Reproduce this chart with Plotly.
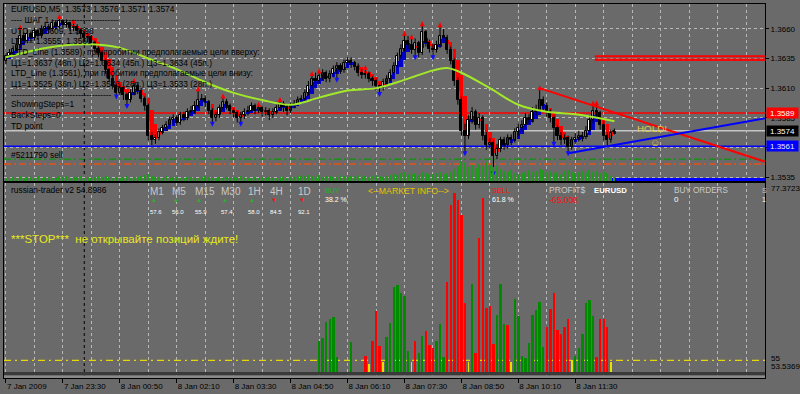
import plotly.graph_objects as go
from plotly.subplots import make_subplots

# ---------------- data ----------------
symbol = "EURUSD,M5"
time_labels = ["7 Jan 2009", "7 Jan 23:30", "8 Jan 00:50", "8 Jan 02:10", "8 Jan 03:30",
               "8 Jan 04:50", "8 Jan 06:10", "8 Jan 07:30", "8 Jan 08:50", "8 Jan 10:10", "8 Jan 11:30"]
label_bars = [0, 16, 32, 48, 64, 80, 96, 112, 128, 144, 160]
day_break_bar = 22

closes = [
    1.3637, 1.3640, 1.3643, 1.3646, 1.3654, 1.3650, 1.3656, 1.3652, 1.3658, 1.3654,
    1.3660, 1.3662, 1.3660, 1.3665, 1.3662, 1.3667, 1.3663, 1.3665, 1.3661, 1.3662,
    1.3658, 1.3656, 1.3652, 1.3653, 1.3648, 1.3643, 1.3640, 1.3633, 1.3625, 1.3618,
    1.3612, 1.3606, 1.3610, 1.3604, 1.3600, 1.3606, 1.3612, 1.3608, 1.3601, 1.3595,
    1.3570, 1.3566, 1.3568, 1.3573, 1.3576, 1.3579, 1.3583, 1.3585, 1.3581, 1.3587,
    1.3585, 1.3590, 1.3591, 1.3595, 1.3600, 1.3601, 1.3598, 1.3591, 1.3585, 1.3587,
    1.3593, 1.3598, 1.3595, 1.3591, 1.3589, 1.3585, 1.3587, 1.3590, 1.3591, 1.3595,
    1.3591, 1.3593, 1.3590, 1.3591, 1.3587, 1.3590, 1.3593, 1.3597, 1.3594, 1.3591,
    1.3596, 1.3597, 1.3600, 1.3601, 1.3606, 1.3612, 1.3618, 1.3616, 1.3620, 1.3623,
    1.3618, 1.3622, 1.3626, 1.3629, 1.3625, 1.3631, 1.3633, 1.3631, 1.3628, 1.3623,
    1.3621, 1.3622, 1.3618, 1.3616, 1.3612, 1.3610, 1.3615, 1.3618, 1.3623, 1.3629,
    1.3637, 1.3643, 1.3650, 1.3646, 1.3642, 1.3648, 1.3640, 1.3657, 1.3648, 1.3643,
    1.3642, 1.3646, 1.3654, 1.3652, 1.3642, 1.3633, 1.3616, 1.3600, 1.3574, 1.3570,
    1.3583, 1.3590, 1.3579, 1.3585, 1.3570, 1.3562, 1.3564, 1.3553, 1.3559, 1.3566,
    1.3562, 1.3568, 1.3566, 1.3573, 1.3576, 1.3579, 1.3585, 1.3583, 1.3590, 1.3591,
    1.3600, 1.3595, 1.3590, 1.3585, 1.3576, 1.3570, 1.3566, 1.3568, 1.3560, 1.3566,
    1.3568, 1.3570, 1.3569, 1.3574, 1.3583, 1.3591, 1.3589, 1.3579, 1.3570, 1.3566,
    1.3572, 1.3574]
highs = [
    1.3640, 1.3643, 1.3646, 1.3652, 1.3661, 1.3657, 1.3659, 1.3658, 1.3661, 1.3660,
    1.3663, 1.3666, 1.3664, 1.3668, 1.3667, 1.3670, 1.3668, 1.3668, 1.3666, 1.3666,
    1.3664, 1.3660, 1.3658, 1.3656, 1.3655, 1.3650, 1.3645, 1.3642, 1.3635, 1.3627,
    1.3621, 1.3614, 1.3613, 1.3612, 1.3606, 1.3609, 1.3616, 1.3614, 1.3610, 1.3603,
    1.3597, 1.3573, 1.3571, 1.3576, 1.3579, 1.3582, 1.3586, 1.3588, 1.3587, 1.3590,
    1.3590, 1.3593, 1.3595, 1.3599, 1.3609, 1.3605, 1.3604, 1.3600, 1.3593, 1.3590,
    1.3596, 1.3603, 1.3601, 1.3597, 1.3593, 1.3591, 1.3590, 1.3593, 1.3595, 1.3598,
    1.3597, 1.3596, 1.3595, 1.3594, 1.3593, 1.3593, 1.3596, 1.3600, 1.3599, 1.3596,
    1.3598, 1.3600, 1.3603, 1.3604, 1.3609, 1.3616, 1.3622, 1.3623, 1.3624, 1.3626,
    1.3625, 1.3625, 1.3629, 1.3632, 1.3631, 1.3634, 1.3636, 1.3636, 1.3633, 1.3631,
    1.3626, 1.3627, 1.3624, 1.3620, 1.3618, 1.3614, 1.3618, 1.3621, 1.3626, 1.3632,
    1.3640, 1.3647, 1.3656, 1.3654, 1.3653, 1.3652, 1.3650, 1.3664, 1.3659, 1.3651,
    1.3647, 1.3650, 1.3663, 1.3660, 1.3655, 1.3645, 1.3635, 1.3619, 1.3603, 1.3580,
    1.3587, 1.3594, 1.3592, 1.3589, 1.3587, 1.3573, 1.3568, 1.3566, 1.3563, 1.3569,
    1.3569, 1.3571, 1.3571, 1.3576, 1.3580, 1.3583, 1.3589, 1.3588, 1.3594, 1.3596,
    1.3610, 1.3603, 1.3598, 1.3592, 1.3587, 1.3579, 1.3573, 1.3571, 1.3570, 1.3569,
    1.3572, 1.3574, 1.3573, 1.3578, 1.3587, 1.3597, 1.3597, 1.3591, 1.3582, 1.3573,
    1.3575, 1.3576]
lows = [
    1.3630, 1.3635, 1.3638, 1.3641, 1.3644, 1.3647, 1.3648, 1.3649, 1.3650, 1.3651,
    1.3652, 1.3657, 1.3656, 1.3658, 1.3659, 1.3660, 1.3660, 1.3661, 1.3658, 1.3658,
    1.3655, 1.3652, 1.3649, 1.3649, 1.3645, 1.3640, 1.3636, 1.3630, 1.3622, 1.3615,
    1.3609, 1.3603, 1.3604, 1.3600, 1.3595, 1.3598, 1.3604, 1.3605, 1.3598, 1.3591,
    1.3566, 1.3562, 1.3563, 1.3566, 1.3571, 1.3574, 1.3577, 1.3580, 1.3578, 1.3579,
    1.3582, 1.3583, 1.3588, 1.3589, 1.3593, 1.3597, 1.3594, 1.3588, 1.3580, 1.3582,
    1.3585, 1.3591, 1.3592, 1.3588, 1.3585, 1.3581, 1.3580, 1.3584, 1.3587, 1.3589,
    1.3588, 1.3589, 1.3586, 1.3587, 1.3583, 1.3585, 1.3588, 1.3591, 1.3590, 1.3587,
    1.3589, 1.3593, 1.3595, 1.3597, 1.3599, 1.3604, 1.3610, 1.3612, 1.3614, 1.3617,
    1.3615, 1.3615, 1.3619, 1.3617, 1.3622, 1.3623, 1.3628, 1.3627, 1.3625, 1.3620,
    1.3618, 1.3618, 1.3615, 1.3612, 1.3608, 1.3605, 1.3608, 1.3612, 1.3616, 1.3621,
    1.3627, 1.3635, 1.3641, 1.3643, 1.3639, 1.3636, 1.3636, 1.3638, 1.3645, 1.3640,
    1.3636, 1.3640, 1.3644, 1.3648, 1.3639, 1.3630, 1.3612, 1.3596, 1.3570, 1.3555,
    1.3567, 1.3580, 1.3575, 1.3576, 1.3566, 1.3558, 1.3559, 1.3538, 1.3550, 1.3556,
    1.3558, 1.3559, 1.3562, 1.3564, 1.3570, 1.3574, 1.3577, 1.3580, 1.3581, 1.3587,
    1.3589, 1.3590, 1.3586, 1.3581, 1.3563, 1.3566, 1.3562, 1.3563, 1.3555, 1.3558,
    1.3563, 1.3565, 1.3565, 1.3567, 1.3572, 1.3580, 1.3585, 1.3575, 1.3566, 1.3562,
    1.3564, 1.3571]
first_open = 1.3633
last_open = 1.3573
opens = [first_open] + closes[:-1]
opens[-1] = last_open

volumes = [
    30, 25, 40, 35, 50, 30, 45, 40, 35, 50, 30, 40, 45, 35, 30, 50, 40, 55, 35, 45,
    40, 50, 35, 45, 30, 40, 55, 45, 50, 40, 35, 45, 30, 40, 50, 35, 45, 40, 55, 60,
    70, 50, 45, 40, 35, 50, 30, 45, 40, 35, 30, 40, 45, 35, 30, 40, 50, 45, 35, 30,
    40, 35, 45, 30, 40, 35, 50, 45, 30, 35, 40, 30, 45, 35, 40, 30, 35, 45, 40, 35,
    45, 40, 50, 60, 55, 65, 50, 45, 60, 40, 55, 50, 45, 40, 60, 50, 45, 55, 50, 60,
    45, 50, 40, 55, 60, 50, 45, 55, 60, 70, 65, 80, 90, 75, 70, 85, 60, 90, 80, 70,
    75, 85, 90, 70, 80, 95, 120, 150, 200, 180, 140, 160, 130, 170, 150, 190, 160, 140, 150, 120,
    100, 90, 110, 80, 70, 85, 95, 110, 90, 100, 120, 110, 90, 100, 80, 90, 70, 100, 110, 90,
    85, 95, 100, 80, 110, 90, 100, 85, 95, 80, 60, 30]

up_fractals = [4, 15, 19, 36, 54, 61, 71, 77, 86, 88, 101, 112, 114, 117, 122, 150, 165, 166]
down_fractals = [31, 34, 58, 66, 93, 105, 115, 120, 129, 137, 154, 158]

ma_bars = [0, 8, 16, 24, 32, 40, 48, 56, 64, 72, 80, 88, 96, 104, 112, 120, 124, 128,
           136, 144, 152, 160, 168, 171]
ma_values = [1.3636, 1.3642, 1.3646, 1.3647, 1.3644, 1.3635, 1.3626, 1.3615, 1.3606, 1.3600,
             1.3596, 1.3602, 1.3608, 1.3610, 1.3617, 1.3625, 1.3627, 1.3623, 1.3610, 1.3596,
             1.3590, 1.3588, 1.3584, 1.3582]

utd_point = 1.3609
utd_point2 = 1.3598
ltd_point = 1.3555
ltd_point2 = 1.3560
utd_line = 1.3589
ltd_line = 1.3561
bid = 1.3574
up_targets = [1.3637, 1.3634, 1.3634]
down_targets = [1.3525, 1.3533, 1.3533]
target_up_start = 165.5
target_dn_start = 170.0
order_open = 1.3550
order_stop = 1.3546
order_label = "#5211790 sell"
red_trend_x = [150, 213.3]
red_trend_y = [1.3610, 1.3548]
blue_trend_x = [158, 213.3]
blue_trend_y = [1.3555, 1.35845]
price_ticks = [1.3660, 1.3635, 1.3610, 1.3585, 1.3560, 1.3535]
hidden_price_ticks = [1.3560]   # covered by the LTD price box in the reference

# lower indicator window
ind_name = "russian-trader v2"
ind_value = 54.8986
ind_max = 77.3723
ind_min = 53.5369
ind_level = 55
green_x = [88, 89, 90, 91, 92, 93, 97, 107, 108, 109, 110, 111, 112, 113, 116, 117, 121, 122, 123,
           131, 138, 139, 140, 143, 144, 145, 146, 147, 148, 149, 150, 151, 160, 161, 162, 163, 164, 165]
green_v = [57.47, 57.80, 59.85, 60.19, 60.53, 55.38, 57.26, 57.93, 59.77, 64.20, 64.45, 63.45, 63.11,
           56.17, 55.92, 58.09, 57.43, 59.65, 55.42, 64.61, 60.69, 64.61, 59.65, 62.69, 60.60, 55.51,
           55.29, 57.17, 60.69, 61.31, 62.36, 56.64, 55.51, 56.51, 58.30, 62.28, 62.61, 60.60]
red_x = [101, 103, 104, 105, 115, 118, 119, 120, 124, 125, 126, 127, 128, 129, 132, 133, 134, 135,
         136, 137, 141, 152, 153, 154, 155, 156, 157, 158, 166, 167, 168, 169]
red_v = [55.58, 57.43, 61.19, 56.80, 57.43, 58.72, 56.92, 56.55, 64.86, 74.61, 76.12, 75.24, 73.36,
         62.19, 55.92, 70.47, 75.49, 61.60, 61.85, 57.05, 59.52, 59.27, 61.53, 63.54, 58.81, 58.39,
         59.15, 60.19, 55.46, 60.19, 60.27, 59.15]
yellow_x = [102, 106, 114, 130, 142, 159, 170]
yellow_v = [54.50, 54.75, 54.75, 54.75, 54.75, 55.00, 54.75]

tf_names = ["M1", "M5", "M15", "M30", "1H", "4H", "1D"]
tf_values = [57.6, 56.0, 55.9, 57.4, 58.0, 84.5, 92.1]
tf_up = [True, True, True, True, True, False, False]
buy_pct = 38.2
sell_pct = 61.8
profit = -65.0
buy_orders = 0
sell_orders = 1

# ---------------- style / layout constants ----------------
W, H = 800, 394
L, R, T, B = 3, 765, 3, 379
BG = "#6a6a6a"
GRID = "#b9b9b9"
FONT = "Liberation Sans, Arial, sans-serif"
x_range = [-0.56, 213.33]
y_range = [1.35316, 1.36810]
ind_range = [52.784, ind_max]
tf_px = [147, 169, 192, 218, 245, 267, 295]


def px(x):
    return (x - L) / (R - L)


def py(y):
    return (B - y) / (B - T)


fig = make_subplots(rows=2, cols=1, shared_xaxes=True, vertical_spacing=0.005)

n = len(closes)
bars = list(range(n))

# volumes (hidden overlay axis in main window)
fig.add_trace(go.Bar(x=bars, y=volumes, width=0.3, marker=dict(color="#1f9a1f", line_width=0),
                     xaxis="x", yaxis="y3", hoverinfo="skip"))

# Heiken Ashi bodies (indicator computed from the OHLC series)
ha_close = [(opens[i] + highs[i] + lows[i] + closes[i]) / 4 for i in bars]
ha_open = [(opens[0] + closes[0]) / 2]
for i in bars[1:]:
    ha_open.append((ha_open[i - 1] + ha_close[i - 1]) / 2)
for up, colour in ((True, "#0000c8"), (False, "#ff0000")):
    xs = [i for i in bars if (ha_close[i] >= ha_open[i]) == up]
    fig.add_trace(go.Bar(x=xs, base=[min(ha_open[i], ha_close[i]) for i in xs],
                         y=[max(abs(ha_close[i] - ha_open[i]), 0.00004) for i in xs],
                         width=0.95, marker=dict(color=colour, line_width=0)), row=1, col=1)

# wicks
wx, wy = [], []
for i in bars:
    wx += [i, i, None]
    wy += [lows[i], highs[i], None]
fig.add_trace(go.Scatter(x=wx, y=wy, mode="lines", line=dict(color="black", width=1)), row=1, col=1)

# bodies
for bull, fill in ((True, "white"), (False, "black")):
    xs = [i for i in bars if (closes[i] >= opens[i]) == bull]
    fig.add_trace(go.Bar(x=xs, base=[min(opens[i], closes[i]) for i in xs],
                         y=[max(abs(closes[i] - opens[i]), 0.00004) for i in xs],
                         width=0.6, marker=dict(color=fill, line=dict(color="black", width=1))),
                  row=1, col=1)

# moving average
fig.add_trace(go.Scatter(x=ma_bars, y=ma_values, mode="lines", line_shape="spline",
                         line=dict(color="#a2e82a", width=2)), row=1, col=1)

# trend lines
fig.add_trace(go.Scatter(x=red_trend_x, y=red_trend_y, mode="lines",
                         line=dict(color="#ff0000", width=2)), row=1, col=1)
fig.add_trace(go.Scatter(x=blue_trend_x, y=blue_trend_y, mode="lines",
                         line=dict(color="#0000ff", width=2)), row=1, col=1)

# fractals
fig.add_trace(go.Scatter(x=up_fractals, y=[highs[i] + 0.00025 for i in up_fractals], mode="markers",
                         marker=dict(symbol="arrow-up", size=5, color="#ff0000")), row=1, col=1)
fig.add_trace(go.Scatter(x=down_fractals, y=[lows[i] - 0.00025 for i in down_fractals], mode="markers",
                         marker=dict(symbol="arrow-down", size=5, color="#1010ff")), row=1, col=1)

# lower indicator histogram
fig.add_trace(go.Bar(x=green_x, y=[v - ind_min for v in green_v], base=ind_min, width=0.68,
                     marker=dict(color="#008a00", line_width=0)), row=2, col=1)
fig.add_trace(go.Bar(x=red_x, y=[v - ind_min for v in red_v], base=ind_min, width=0.68,
                     marker=dict(color="#ff0000", line_width=0)), row=2, col=1)
fig.add_trace(go.Bar(x=yellow_x, y=[v - ind_min for v in yellow_v], base=ind_min, width=0.2,
                     marker=dict(color="#e8e000", line_width=0)), row=2, col=1)

shapes = []


def hline(y, color, width, dash="solid", x0=None, yref="y"):
    if x0 is None:
        shapes.append(dict(type="line", xref="paper", x0=0, x1=1, yref=yref, y0=y, y1=y,
                           line=dict(color=color, width=width, dash=dash), layer="between"))
    else:
        shapes.append(dict(type="line", xref="x", x0=x0, x1=x_range[1], yref=yref, y0=y, y1=y,
                           line=dict(color=color, width=width, dash=dash), layer="between"))


hline(order_open, "#1c8c1c", 1.5, "7px,3px,2px,3px")
hline(order_stop, "#e8501c", 1.5, "7px,3px,2px,3px")
hline(bid, "#c4c4c4", 1.5)
hline(utd_line, "#ff0000", 1.5)
hline(ltd_line, "#0000ff", 1.5)
for t in up_targets:
    hline(t, "#ff0000", 2, x0=target_up_start)
for t in down_targets:
    hline(t, "#0000ff", 3, x0=target_dn_start)
hline(ind_level, "#e8d800", 1.2, "7px,4px,2px,4px", yref="y2")
shapes.append(dict(type="line", xref="x", x0=day_break_bar, x1=day_break_bar, yref="paper", y0=0, y1=1,
                   line=dict(color="black", width=1, dash="3px,3px"), layer="between"))
shapes.append(dict(type="rect", xref="paper", x0=0, x1=1, yref="paper", y0=py(376.5), y1=py(373),
                   fillcolor="#3a3a3a", line_width=0, layer="above"))
shapes.append(dict(type="rect", xref="paper", x0=0, x1=1, yref="paper", y0=py(379), y1=py(376.5),
                   fillcolor="#8a8a8a", line_width=0, layer="above"))

ann = []


def text(s, x, y, color="black", size=8.4, anchor="left", bold=False):
    if bold:
        s = "<b>" + s + "</b>"
    ann.append(dict(text=s, x=px(x), y=py(y), xref="paper", yref="paper", xanchor=anchor,
                    yanchor="middle", showarrow=False, font=dict(family=FONT, size=size, color=color)))


# header & TD info
text(f"{symbol}  {opens[-1]:.4f} {highs[-1]:.4f} {lows[-1]:.4f} {closes[-1]:.4f}", 8, 8)
text("---- ШАГ 1 ------------------------", 8, 19)
text(f"UTD = {utd_point:.4f}, {utd_point2:.4f}", 8, 30)
text(f"LTD = {ltd_point:.4f}, {ltd_point2:.4f}", 8, 40)
text(f"UTD_Line ({utd_line:.4f}), при пробитии предполагаемые цели вверху:", 8, 51)
text(" ".join(f"Ц{k + 1}={t:.4f} ({round((t - utd_line) * 10000)}п.)" for k, t in enumerate(up_targets)), 8, 62)
text(f"LTD_Line ({ltd_line:.4f}), при пробитии предполагаемые цели внизу:", 8, 72)
text(" ".join(f"Ц{k + 1}={t:.4f} ({round((ltd_line - t) * 10000)}п.)" for k, t in enumerate(down_targets)), 8, 83)
text("------------------------------------", 8, 94)
text("ShowingSteps=1", 8, 104)
text("BackSteps=0", 8, 115)
text("TD point", 8, 126)
text(order_label, 8, 155)
text("HOLD!", 652, 128, "#e0c848", 9.8, "center")
text("☺", 655, 142, "#e0c848", 10, "center")

# lower window texts
text(f"{ind_name} {ind_value:.4f}", 8, 190)
for name, val, up, xx in zip(tf_names, tf_values, tf_up, tf_px):
    text(name, xx, 192, "#c8c8c8", 10)
    text("▲" if up else "▼", xx + 1, 200, "#2cb02c" if up else "#ff1010", 6)
    text(f"{val:.1f}", xx, 212, "white", 6)
text("BUY", 322, 190, "#1fb01f", 7)
text(f"{buy_pct:.1f} %", 322, 200, "white", 7)
text("<--MARKET INFO-->", 365, 191, "#e8c000", 8.7)
text("SELL", 490, 190, "#ff1010", 7.4)
text(f"{sell_pct:.1f} %", 490, 200, "white", 7)
text("PROFIT$", 547, 190, "#c8c8c8", 8.6)
text(f"{profit:.3f}", 547, 200, "#ff1010", 8.6)
text("EURUSD", 592, 190, "white", 7.8, bold=True)
text("BUY ORDERS", 672, 190, "#c8c8c8", 8.2)
text(f"{buy_orders}", 672, 200, "white", 8)
text("S", 760, 190, "#c8c8c8", 7)
text(f"{sell_orders}", 760, 200, "white", 7)
text("***STOP***  не открывайте позиций ждите!", 8, 239, "#e8e81c", 11.5)

# price boxes on the right axis
for val, bgc, fc in ((utd_line, "#ff0000", "white"), (bid, "#000000", "white"), (ltd_line, "#0000ff", "#e8e8ff")):
    ann.append(dict(text=f"{val:.4f}", x=px(766), y=val, xref="paper", yref="y", xanchor="left",
                    yanchor="middle", showarrow=False, bgcolor=bgc, width=31, height=10, borderpad=0,
                    font=dict(family=FONT, size=8, color=fc)))
# indicator scale labels
for val, ya, ys in ((ind_max, "top", 0), (ind_level, "middle", 2), (ind_min, "bottom", 0)):
    lbl = f"{val:.4f}" if isinstance(val, float) else f"{val}"
    ann.append(dict(text=lbl, x=px(770), y=val, xref="paper", yref="y2", xanchor="left", yanchor=ya,
                    yshift=ys, showarrow=False, font=dict(family=FONT, size=8, color="black"), borderpad=0))

grid_bars = list(range(0, 214, 8))
xcommon = dict(range=x_range, showgrid=True, gridcolor=GRID, griddash="3px,3px", gridwidth=1,
               tickvals=label_bars, zeroline=False, showline=True, mirror=True, linecolor="black",
               linewidth=1, minor=dict(tickvals=grid_bars, showgrid=True, gridcolor=GRID,
                                       griddash="3px,3px", ticks=""))

fig.update_layout(
    width=W, height=H, margin=dict(l=L, r=W - R, t=T, b=H - B),
    paper_bgcolor=BG, plot_bgcolor=BG, showlegend=False, barmode="overlay", bargap=0,
    font=dict(family=FONT, size=8, color="black"),
    xaxis=dict(**xcommon, showticklabels=False, ticks=""),
    xaxis2=dict(**xcommon, showticklabels=True, ticktext=time_labels, ticklabelposition="outside right",
                ticks="outside", ticklen=4, tickcolor="black", tickfont=dict(size=8, color="black")),
    yaxis=dict(domain=[py(181), 1], range=y_range, side="right", tickvals=price_ticks,
               ticktext=["" if v in hidden_price_ticks else f"{v:.4f}" for v in price_ticks],
               showgrid=True, gridcolor=GRID,
               griddash="3px,3px", ticks="outside", ticklen=3, tickcolor="black",
               tickfont=dict(size=8, color="black"), zeroline=False, showline=True, mirror=True,
               linecolor="black"),
    yaxis2=dict(domain=[0, py(183)], range=ind_range, showticklabels=False, showgrid=False,
                zeroline=False, showline=True, mirror=True, linecolor="black", ticks=""),
    yaxis3=dict(overlaying="y", range=[0, 1780], visible=False),
    shapes=shapes, annotations=ann,
)

fig.write_html("out.html", config={"displayModeBar": False},
               post_script="document.body.style.margin='0px';document.body.style.background='#6a6a6a';")
